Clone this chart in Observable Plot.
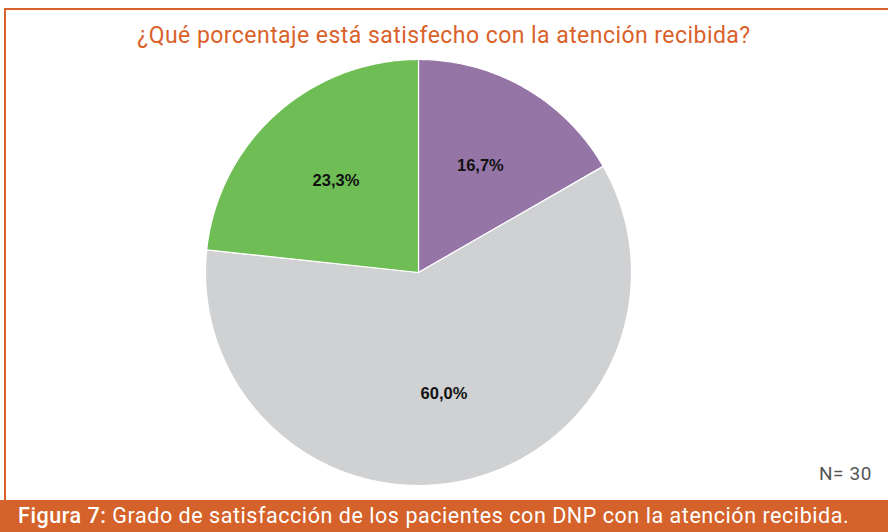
<!DOCTYPE html>
<html>
<head>
<meta charset="utf-8">
<script src="https://cdn.jsdelivr.net/npm/d3@7"></script>
<script src="https://cdn.jsdelivr.net/npm/@observablehq/plot@0.6"></script>
<style>
  html, body { margin: 0; padding: 0; background: #fff; }
  #wrap { position: relative; width: 888px; height: 532px; overflow: hidden; background: #fff; }
  #box { position: absolute; left: 4px; top: 8px; width: 884px; height: 492px; border-top: 2px solid #D9622B; border-left: 2px solid #D9622B; box-sizing: border-box; }
  #title { position: absolute; left: 0; top: 22px; width: 888px; text-align: center; font-family: Roboto, sans-serif; font-size: 23px; color: #D9622B; letter-spacing: 0.45px; }
  #chart { position: absolute; left: 0; top: 52px; }
  #n { position: absolute; right: 16px; top: 462px; font-family: Roboto, sans-serif; font-size: 19px; color: #555; letter-spacing: 0.6px; }
  #caption { position: absolute; left: 0; top: 500px; width: 888px; height: 32px; background: #D4622A; color: #fff; font-family: Roboto, sans-serif; font-size: 21.5px; line-height: 32px; padding-left: 18px; box-sizing: border-box; white-space: nowrap; letter-spacing: 0.55px; }
  #caption b { font-weight: 500; }
</style>
</head>
<body>
<div id="wrap">
  <div id="box"></div>
  <div id="title">¿Qué porcentaje está satisfecho con la atención recibida?</div>
  <div id="chart"></div>
  <div id="n">N= 30</div>
  <div id="caption"><b>Figura 7:</b> Grado de satisfacción de los pacientes con DNP con la atención recibida.</div>
</div>
<script>
const categories = ["Satisfecho A", "Satisfecho B", "Satisfecho C"];
const values = [16.7, 60.0, 23.3];
const labels = ["16,7%", "60,0%", "23,3%"];
const colors = ["#9475A6", "#D0D1D3", "#6EBE55"];

const pie = d3.pie().sort(null).value(d => d)(values);

const pts = [];
pie.forEach((p, i) => {
  const steps = Math.max(8, Math.ceil((p.endAngle - p.startAngle) / 0.01));
  pts.push({cat: categories[i], x: 0, y: 0});
  for (let k = 0; k <= steps; k++) {
    const a = p.startAngle + (p.endAngle - p.startAngle) * k / steps;
    pts.push({cat: categories[i], x: Math.sin(a), y: Math.cos(a)});
  }
  pts.push({cat: categories[i], x: 0, y: 0});
});

const labelPts = pie.map((p, i) => {
  const a = (p.startAngle + p.endAngle) / 2;
  const r = 0.58;
  return {label: labels[i], x: r * Math.sin(a), y: r * Math.cos(a)};
});

const chart = Plot.plot({
  width: 888,
  height: 440,
  marginLeft: 205,
  marginRight: 257,
  marginTop: 7,
  marginBottom: 7,
  x: {domain: [-1, 1], axis: null},
  y: {domain: [-1, 1], axis: null},
  color: {domain: categories, range: colors},
  style: {background: "transparent", overflow: "visible"},
  marks: [
    Plot.line(pts, {x: "x", y: "y", z: "cat", fill: "cat", stroke: "#fff", strokeWidth: 1.2, curve: "linear"}),
    Plot.text(labelPts, {x: "x", y: "y", text: "label", fontSize: 16.5, fontWeight: "bold", fill: "#111", fontFamily: "Liberation Sans, Arial, sans-serif"})
  ]
});
document.getElementById("chart").appendChild(chart);
</script>
</body>
</html>
